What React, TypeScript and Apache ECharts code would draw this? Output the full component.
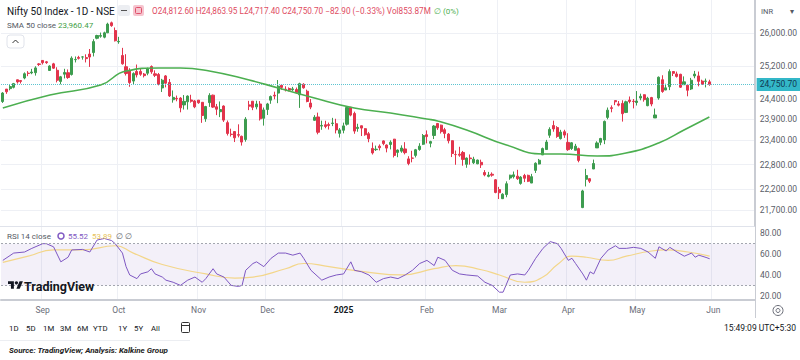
import React, { useEffect, useRef } from "react";
import * as echarts from "echarts";

const dates: string[] = [
  "2024-08-16","2024-08-19","2024-08-20","2024-08-21","2024-08-22","2024-08-23","2024-08-26","2024-08-27","2024-08-28","2024-08-29","2024-08-30",
  "2024-09-02","2024-09-03","2024-09-04","2024-09-05","2024-09-06","2024-09-09","2024-09-10","2024-09-11","2024-09-12","2024-09-13","2024-09-16","2024-09-17","2024-09-18","2024-09-19","2024-09-20","2024-09-23","2024-09-24","2024-09-25","2024-09-26","2024-09-27","2024-09-30",
  "2024-10-01","2024-10-03","2024-10-04","2024-10-07","2024-10-08","2024-10-09","2024-10-10","2024-10-11","2024-10-14","2024-10-15","2024-10-16","2024-10-17","2024-10-18","2024-10-21","2024-10-22","2024-10-23","2024-10-24","2024-10-25","2024-10-28","2024-10-29","2024-10-30","2024-10-31",
  "2024-11-01","2024-11-04","2024-11-05","2024-11-06","2024-11-07","2024-11-08","2024-11-11","2024-11-12","2024-11-13","2024-11-14","2024-11-18","2024-11-19","2024-11-21","2024-11-22","2024-11-25","2024-11-26","2024-11-27","2024-11-28","2024-11-29",
  "2024-12-02","2024-12-03","2024-12-04","2024-12-05","2024-12-06","2024-12-09","2024-12-10","2024-12-11","2024-12-12","2024-12-13","2024-12-16","2024-12-17","2024-12-18","2024-12-19","2024-12-20","2024-12-23","2024-12-24","2024-12-26","2024-12-27","2024-12-30","2024-12-31",
  "2025-01-01","2025-01-02","2025-01-03","2025-01-06","2025-01-07","2025-01-08","2025-01-09","2025-01-10","2025-01-13","2025-01-14","2025-01-15","2025-01-16","2025-01-17","2025-01-20","2025-01-21","2025-01-22","2025-01-23","2025-01-24","2025-01-27","2025-01-28","2025-01-29","2025-01-30","2025-01-31",
  "2025-02-01","2025-02-03","2025-02-04","2025-02-05","2025-02-06","2025-02-07","2025-02-10","2025-02-11","2025-02-12","2025-02-13","2025-02-14","2025-02-17","2025-02-18","2025-02-19","2025-02-20","2025-02-21","2025-02-24","2025-02-25","2025-02-27","2025-02-28",
  "2025-03-03","2025-03-04","2025-03-05","2025-03-06","2025-03-07","2025-03-10","2025-03-11","2025-03-12","2025-03-13","2025-03-17","2025-03-18","2025-03-19","2025-03-20","2025-03-21","2025-03-24","2025-03-25","2025-03-26","2025-03-27","2025-03-28",
  "2025-04-01","2025-04-02","2025-04-03","2025-04-04","2025-04-07","2025-04-08","2025-04-09","2025-04-11","2025-04-15","2025-04-16","2025-04-17","2025-04-21","2025-04-22","2025-04-23","2025-04-24","2025-04-25","2025-04-28","2025-04-29","2025-04-30",
  "2025-05-02","2025-05-05","2025-05-06","2025-05-07","2025-05-08","2025-05-09","2025-05-12","2025-05-13","2025-05-14","2025-05-15","2025-05-16","2025-05-19","2025-05-20","2025-05-21","2025-05-22","2025-05-23","2025-05-26","2025-05-27","2025-05-28","2025-05-29","2025-05-30",
  "2025-06-02","2025-06-03","2025-06-04","2025-06-05","2025-06-06","2025-06-09","2025-06-10","2025-06-11","2025-06-12","2025-06-13","2025-06-16","2025-06-17"
];

// [open, close, low, high]
const ohlc: number[][] = [
  [24334,24541,24300,24563],[24637,24572,24522,24638],[24648,24698,24607,24734],[24680,24770,24654,24787],[24863,24811,24771,24867],[24845,24823,24773,24858],[24906,25010,24875,25043],[25024,25017,24951,25074],[25030,25052,24999,25129],[25035,25152,24965,25192],[25249,25236,25199,25268],
  [25333,25279,25235,25333],[25300,25280,25250,25321],[25089,25198,25084,25216],[25250,25145,25128,25275],[25094,24852,24800,25168],[24823,24936,24754,24957],[24999,25041,24896,25130],[25035,24918,24886,25114],[24991,25389,24966,25433],[25352,25357,25285,25430],[25406,25384,25356,25445],[25416,25419,25352,25441],[25402,25377,25285,25482],[25488,25416,25176,25611],[25525,25791,25430,25849],[25872,25939,25847,25957],[25921,25940,25886,26011],[25899,26004,25871,26032],[26005,26216,25998,26250],[26248,26179,26151,26277],[26061,25811,25794,26134],
  [25788,25797,25739,25907],[25453,25251,25230,25639],[25181,25015,24967,25485],[25085,24796,24694,25144],[24832,25013,24756,25044],[25066,24982,24920,25234],[25067,24998,24960,25134],[25002,24964,24920,25028],[25023,25128,24973,25159],[25186,25057,25008,25212],[25008,24971,24929,25093],[24992,24750,24728,25029],[24665,24854,24567,24886],[24957,24781,24679,24979],[24799,24472,24445,24882],[24378,24436,24307,24604],[24412,24399,24341,24480],[24418,24181,24073,24441],[24252,24339,24140,24492],[24328,24467,24140,24485],[24372,24341,24307,24499],[24349,24205,24172,24372],
  [24368,24304,24280,24372],[24316,23995,23817,24316],[23917,24213,23842,24229],[24308,24484,24205,24537],[24489,24199,24179,24503],[24207,24148,24004,24276],[24087,24141,23956,24336],[24225,23883,23839,24242],[23822,23559,23509,23873],[23542,23533,23484,23675],[23605,23453,23350,23606],[23529,23518,23464,23781],[23489,23349,23264,23507],[23412,23907,23359,23956],[24253,24222,24126,24351],[24343,24194,24125,24343],[24205,24275,24145,24354],[24275,23914,23873,24345],[23927,24131,23750,24189],
  [24140,24276,24008,24302],[24368,24457,24280,24481],[24488,24468,24389,24574],[24539,24708,24295,24857],[24729,24678,24620,24751],[24633,24620,24580,24705],[24652,24610,24580,24677],[24620,24642,24592,24691],[24627,24548,24528,24675],[24498,24768,24180,24792],[24753,24668,24647,24781],[24585,24336,24316,24624],[24297,24199,24149,24395],[23878,23952,23870,24004],[23960,23588,23538,24065],[23738,23753,23648,23870],[23770,23728,23685,23867],[23775,23750,23654,23823],[23801,23813,23737,23938],[23796,23645,23560,23916],[23561,23645,23460,23689],
  [23637,23743,23562,23822],[23783,24189,23751,24226],[24196,24005,23976,24196],[24045,23616,23551,24089],[23680,23708,23601,23795],[23746,23689,23496,23751],[23675,23527,23503,23689],[23552,23432,23345,23596],[23195,23086,23047,23340],[23165,23176,23134,23264],[23250,23213,23146,23293],[23378,23312,23272,23391],[23278,23203,23100,23292],[23291,23345,23171,23391],[23421,23025,22976,23426],[23099,23155,22982,23170],[23129,23205,23090,23270],[23183,23092,23050,23347],[22941,22829,22786,23006],[22961,22957,22857,23138],[23026,23163,22976,23183],[23169,23250,23139,23322],[23296,23508,23277,23546],
  [23528,23482,23318,23633],[23320,23361,23222,23381],[23510,23739,23423,23762],[23802,23696,23647,23807],[23761,23603,23557,23773],[23650,23560,23443,23695],[23543,23382,23317,23569],[23383,23072,22986,23390],[23046,23045,22798,23144],[23055,23031,22992,23235],[23097,22929,22775,23134],[22809,22960,22725,22975],[22963,22945,22801,23049],[22847,22933,22814,22992],[22821,22913,22812,22923],[22857,22796,22720,22922],[22609,22553,22518,22668],[22516,22547,22493,22625],[22568,22545,22508,22613],[22433,22125,22105,22450],
  [22194,22119,21965,22261],[21974,22083,21965,22106],[22073,22337,22008,22395],[22476,22545,22433,22556],[22508,22553,22464,22634],[22522,22461,22429,22676],[22345,22498,22314,22522],[22537,22470,22377,22577],[22541,22397,22377,22558],[22354,22509,22353,22577],[22662,22834,22599,22857],[22816,22908,22807,22940],[23037,23191,23036,23216],[23168,23350,23159,23403],[23515,23658,23452,23709],[23751,23669,23601,23869],[23701,23487,23452,23737],[23433,23592,23412,23647],[23600,23519,23452,23649],
  [23342,23165,23136,23565],[23193,23332,23158,23350],[23150,23250,23146,23306],[23190,22904,22858,23214],[21758,22162,21744,22190],[22446,22536,22271,22698],[22460,22399,22354,22468],[22695,22829,22695,22924],[23208,23328,23207,23368],[23344,23437,23273,23452],[23401,23852,23299,23873],[23949,24125,23903,24189],[24185,24167,24073,24242],[24357,24329,24248,24359],[24277,24247,24216,24347],[24289,24039,23847,24365],[24070,24328,24054,24355],[24370,24336,24290,24457],[24343,24334,24168,24396],
  [24311,24347,24238,24589],[24420,24461,24365,24526],[24500,24380,24331,24509],[24234,24414,24220,24449],[24431,24274,24220,24448],[23936,24008,23936,24164],[24420,24925,24378,24944],[24865,24578,24547,24973],[24614,24667,24613,24767],[24694,25062,24612,25116],[25064,25020,24954,25070],[25005,24945,24917,25062],[24996,24683,24664,25010],[24744,24813,24737,24946],[24733,24609,24462,24737],[24639,24853,24614,24909],[24956,25001,24900,25079],[24957,24826,24704,25063],[24832,24752,24737,24865],[24825,24833,24678,24893],[24812.6,24750.7,24717.4,24863.95]
];

// SMA 50: [candle index, value]
const sma50: number[][] = [
  [0,24177],[13,24494],[27,24736],[34,25077],[43,25150],[49,25150],[57,25077],[68,24858],[76,24664],[85,24445],[97,24177],[107,24056],[117,23910],[120,23862],[128,23643],[139,23278],[149,23060],[154,23060],[164,23011],[172,23084],[181,23327],[188,23643],[195,23960]
];

const rsi14: number[][] = [
  [0,54],[3,61],[6,62],[8,65.5],[11,70],[12,70],[14,67],[16,52.6],[18,57],[19,64],[22,64.5],[24,62],[26,73.5],[28,75],[30,73],[31,70],[33,61],[34,48],[35,40],[37,36.5],[38,41],[40,43],[41,46],[42,41],[44,38],[45,35],[47,33],[49,30],[51,35],[53,38],[55,33],[56,36.5],[58,46],[59,41],[61,38],[63,30],[65,29],[66,30],[67,44.5],[69,51],[70,52.6],[72,48],[74,56],[76,61],[78,61],[80,59],[82,61],[83,56],[85,44.5],[88,35],[90,38],[92,40],[94,41],[96,52.6],[97,44.5],[99,43],[101,40],[103,33],[105,36.5],[107,38],[109,36.5],[111,40],[113,44.5],[115,51],[117,54],[119,49],[120,57],[122,54],[124,44.5],[126,41],[128,40],[131,39],[133,33],[135,30],[137,23.5],[138,23.5],[140,40],[142,41],[144,40],[145,44.5],[147,56],[149,65.5],[151,72],[153,70],[154,65.5],[156,54],[157,56],[158,51],[160,41],[161,35],[162,43],[163,41],[165,56],[167,64],[169,68],[170,65.5],[172,65.5],[174,66.5],[176,65.5],[178,62],[180,56],[181,67],[183,63],[184,66.5],[186,62],[188,58],[190,61],[191,57],[192,59],[194,56.8],[195,55.52]
];

const rsiMa: number[][] = [
  [0,52],[7,58],[14,64],[22,64],[31,68],[36,61],[44,50],[56,41],[64,37],[69,38],[78,46],[83,51],[90,48],[100,43],[110,40],[119,46],[125,49],[132,45],[137,40],[144,33],[149,38],[153,50],[157,58],[161,57],[167,54],[172,58],[179,63],[183,64],[189,62],[195,58]
];

const priceTicks = [26000, 25200, 24400, 23900, 23400, 22800, 22200, 21700];
const rsiTicks = [80, 60, 40, 20];
const rsiBands = [70, 30];
const lastClose = 24750.7;
const monthNames = ["Jan","Feb","Mar","Apr","May","Jun","Jul","Aug","Sep","Oct","Nov","Dec"];
const rangeButtons = ["1D","5D","1M","3M","6M","YTD","1Y","5Y","All"];
const rangeX = [9, 26, 43, 60, 77, 93, 118, 134, 151];

const FONT = "Roboto, 'Noto Sans', 'DejaVu Sans', sans-serif";
const UP = "#3d9c4f";
const DOWN = "#e2344c";

echarts.graphic.registerShape(
  "tvlogo",
  echarts.graphic.extendPath("M14 22H7V11H0V4h14v18zM28 22h-8l7.5-18h8L28 22z", {})
);

const fmtPrice = (v: number) =>
  v.toLocaleString("en-US", { minimumFractionDigits: 2, maximumFractionDigits: 2 });

function txt(text: string, x: number, y: number, o: any = {}) {
  return {
    type: "text",
    x,
    y,
    silent: true,
    z: 100,
    style: {
      text,
      fill: o.fill || "#131722",
      fontSize: o.size || 9,
      fontFamily: FONT,
      fontWeight: o.weight || "normal",
      fontStyle: o.fontStyle || "normal",
      align: o.align || "left",
      verticalAlign: "middle",
    },
  };
}

export default function App() {
  const ref = useRef<HTMLDivElement>(null);

  useEffect(() => {
    if (!ref.current) return;
    const chart = echarts.init(ref.current, undefined, { renderer: "svg" });
    const monthStart = dates.map((d, i) => i > 0 && d.slice(5, 7) !== dates[i - 1].slice(5, 7));
    const split = { show: true, interval: (i: number) => monthStart[i], lineStyle: { color: "#eef0f5", width: 1 } };

    const graphic: any[] = [
      txt("Nifty 50 Index - 1D - NSE", 7, 11, { size: 10 }),
      { type: "rect", shape: { x: 118, y: 5, width: 12, height: 11, r: 2 }, style: { fill: "#eceef2" }, silent: true },
      { type: "line", shape: { x1: 121, y1: 10.5, x2: 127, y2: 10.5 }, style: { stroke: "#555", lineWidth: 1 }, silent: true },
      { type: "rect", shape: { x: 133, y: 5, width: 11, height: 11, r: 2 }, style: { fill: "#f6c5cf" }, silent: true },
      { type: "rect", shape: { x: 135.5, y: 7.5, width: 6, height: 6, r: 1 }, style: { fill: "none", stroke: "#e0506a", lineWidth: 1 }, silent: true },
      txt("O24,812.60 H24,863.95 L24,717.40 C24,750.70 −82.90 (−0.33%) Vol853.87M", 152, 11, { size: 8.2, fill: "#e04b5f" }),
      txt("∅ (0%)", 434, 11, { size: 8, fill: "#4caf50" }),
      txt("SMA 50 close", 7, 25, { size: 8, fill: "#555a64" }),
      txt("23,960.47", 58, 25, { size: 8, fill: "#43a047" }),
      { type: "rect", shape: { x: 7, y: 35, width: 17, height: 13, r: 3 }, style: { fill: "#fff", stroke: "#e0e3eb", lineWidth: 1 }, silent: true },
      { type: "polyline", shape: { points: [[12.5, 43], [15.5, 40], [18.5, 43]] }, style: { stroke: "#333", fill: "none", lineWidth: 1 }, silent: true },
      txt("INR", 761, 11, { size: 7.5, fill: "#555a64" }),
      txt("▾", 790, 11, { size: 8, fill: "#555a64" }),
      { type: "line", shape: { x1: 755.5, y1: 0, x2: 755.5, y2: 318 }, style: { stroke: "#c9ccd3", lineWidth: 1 }, silent: true },
      { type: "line", shape: { x1: 0, y1: 226.5, x2: 755, y2: 226.5 }, style: { stroke: "#e0e3eb", lineWidth: 1 }, silent: true },
      txt("RSI 14 close", 7, 236, { size: 8, fill: "#555a64" }),
      { type: "circle", shape: { cx: 61, cy: 236, r: 3 }, style: { fill: "none", stroke: "#7e57c2", lineWidth: 1.5 }, silent: true },
      txt("55.52", 68, 236, { size: 8, fill: "#7e57c2" }),
      txt("53.89", 92, 236, { size: 8, fill: "#e8c25a" }),
      txt("∅ ∅", 116, 236, { size: 8, fill: "#555a64" }),
      { type: "tvlogo", x: 8, y: 279.5, scaleX: 0.42, scaleY: 0.42, style: { fill: "#131722" }, silent: true, z: 100 },
      { type: "circle", shape: { cx: 8 + 20 * 0.42, cy: 279.5 + 8 * 0.42, r: 4 * 0.42 }, style: { fill: "#131722" }, silent: true, z: 100 },
      txt("TradingView", 24, 286.5, { size: 12.5, weight: "bold", fill: "#131722" }),
      { type: "circle", shape: { cx: 778, cy: 310.5, r: 5 }, style: { fill: "none", stroke: "#6a6d78", lineWidth: 1 }, silent: true },
      { type: "circle", shape: { cx: 778, cy: 310.5, r: 2 }, style: { fill: "none", stroke: "#6a6d78", lineWidth: 1 }, silent: true },
      ...rangeButtons.map((b, i) => txt(b, rangeX[i], 328, { size: 7.8, fill: "#131722" })),
      { type: "rect", shape: { x: 181.5, y: 322.5, width: 8, height: 10, r: 1 }, style: { fill: "none", stroke: "#333", lineWidth: 1 }, silent: true },
      { type: "line", shape: { x1: 181.5, y1: 325.5, x2: 189.5, y2: 325.5 }, style: { stroke: "#333", lineWidth: 1 }, silent: true },
      txt("15:49:09 UTC+5:30", 796, 328, { size: 8.5, align: "right", fill: "#131722" }),
      { type: "line", shape: { x1: 0, y1: 340.5, x2: 190, y2: 340.5 }, style: { stroke: "#eceef2", lineWidth: 1 }, silent: true },
      txt("Source: TradingView; Analysis: Kalkine Group", 9, 350, { size: 8, weight: "bold", fontStyle: "italic", fill: "#222" }),
    ];

    chart.setOption({
      animation: false,
      backgroundColor: "#ffffff",
      textStyle: { fontFamily: FONT },
      grid: [
        { left: 1, right: 45, top: 0, height: 226 },
        { left: 1, right: 45, top: 227, height: 73 },
      ],
      xAxis: [
        {
          type: "category", gridIndex: 0, data: dates, boundaryGap: true,
          axisLine: { show: false }, axisTick: { show: false }, axisLabel: { show: false },
          splitLine: split,
        },
        {
          type: "category", gridIndex: 1, data: dates, boundaryGap: true,
          axisLine: { show: true, lineStyle: { color: "#c9ccd3", width: 2 } },
          axisTick: { show: false },
          splitLine: split,
          axisLabel: {
            interval: (i: number) => monthStart[i],
            margin: 5,
            fontSize: 8.5,
            color: "#6a6d78",
            formatter: (v: string) => {
              const m = +v.slice(5, 7);
              return m === 1 ? `{y|${v.slice(0, 4)}}` : monthNames[m - 1];
            },
            rich: { y: { fontSize: 8.5, fontWeight: "bold", color: "#131722" } },
          },
        },
      ],
      yAxis: [
        {
          type: "value", gridIndex: 0, position: "right", min: 21310, max: 26802,
          axisLine: { show: true, lineStyle: { color: "#c9ccd3" } },
          axisTick: { show: false, customValues: priceTicks },
          axisLabel: { customValues: priceTicks, formatter: (v: number) => fmtPrice(v), fontSize: 8.5, color: "#5a5e68", margin: 5 },
          splitLine: { show: true, lineStyle: { color: "#eef0f5" } },
        },
        {
          type: "value", gridIndex: 1, position: "right", min: 16, max: 86,
          axisLine: { show: true, lineStyle: { color: "#c9ccd3" } },
          axisTick: { show: false, customValues: rsiTicks },
          axisLabel: { customValues: rsiTicks, formatter: (v: number) => v.toFixed(2), fontSize: 8.5, color: "#5a5e68", margin: 5 },
          splitLine: { show: false },
        },
      ],
      series: [
        {
          type: "candlestick", xAxisIndex: 0, yAxisIndex: 0, data: ohlc, barWidth: 2.6,
          itemStyle: { color: UP, color0: DOWN, borderColor: UP, borderColor0: DOWN, borderWidth: 1 },
          markLine: {
            silent: true, symbol: ["none", "none"],
            data: [{ yAxis: lastClose }],
            lineStyle: { color: "#5cc4d1", type: "dotted", width: 1 },
            label: {
              show: true, position: "end", distance: 2, formatter: fmtPrice(lastClose),
              backgroundColor: "#33b7c8", color: "#103a52", padding: [2, 3], fontSize: 8.5,
            },
          },
        },
        {
          type: "line", xAxisIndex: 0, yAxisIndex: 0, data: sma50, smooth: 0.5, symbol: "none",
          lineStyle: { color: "#4caf50", width: 1.6 }, z: 5,
        },
        {
          type: "line", xAxisIndex: 1, yAxisIndex: 1, data: rsiMa, smooth: 0.5, symbol: "none",
          lineStyle: { color: "#f3d68a", width: 1.2 },
        },
        {
          type: "line", xAxisIndex: 1, yAxisIndex: 1, data: rsi14, symbol: "none",
          lineStyle: { color: "#7e57c2", width: 1 }, z: 4,
          markArea: {
            silent: true,
            itemStyle: { color: "rgba(126,87,194,0.09)" },
            data: [[{ yAxis: rsiBands[0] }, { yAxis: rsiBands[1] }]],
          },
          markLine: {
            silent: true, symbol: ["none", "none"], label: { show: false },
            lineStyle: { color: "#a3a6af", type: [2, 2], width: 1 },
            data: rsiBands.map((b) => ({ yAxis: b })),
          },
        },
      ],
      graphic,
    });
    return () => chart.dispose();
  }, []);

  return (
    <div
      ref={ref}
      style={{ position: "absolute", left: 0, top: 0, width: 800, height: 360, background: "#fff" }}
    />
  );
}
